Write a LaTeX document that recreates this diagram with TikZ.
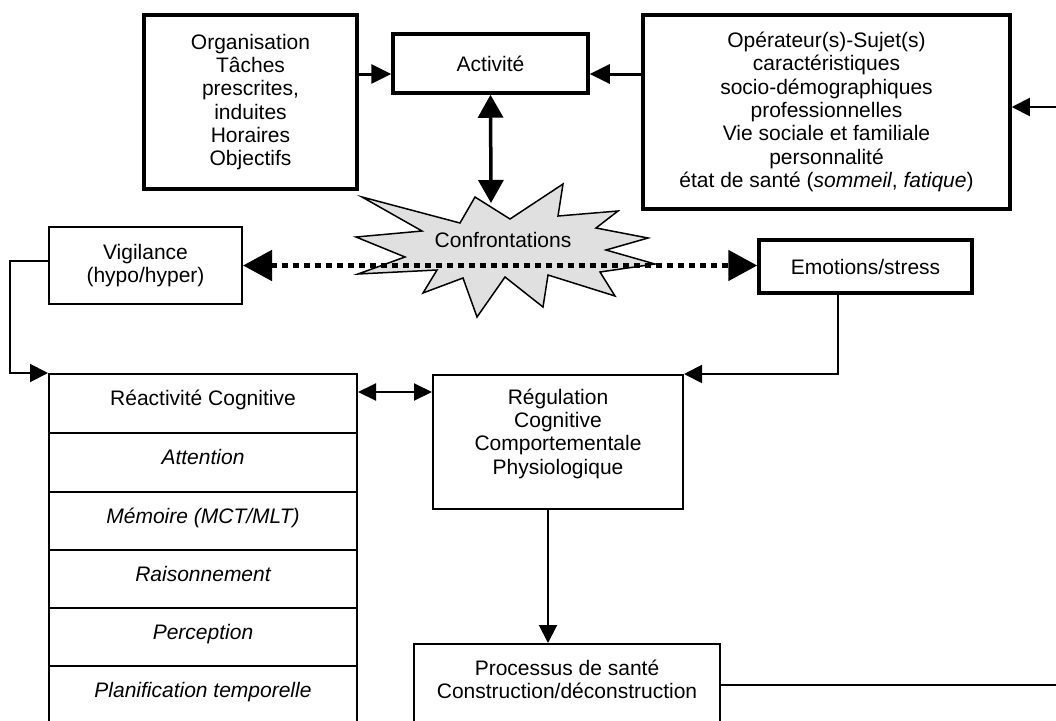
\documentclass[tikz,border=0pt]{standalone}
\usepackage{fontspec}
\setmainfont{Liberation Sans}
\usetikzlibrary{arrows.meta}
\definecolor{burstgray}{gray}{0.88}
\tikzset{
  thickbox/.style={draw, line width=3.5pt, inner sep=0pt, align=center},
  thinbox/.style={draw, line width=2pt, inner sep=0pt, align=center},
  cell/.style={thinbox, minimum width=308pt, text height=16pt, text depth=12pt},
  link/.style={line width=2pt},
  boldlink/.style={line width=3pt},
  thinhead/.style={-{Triangle[length=18pt,width=18pt]}},
  boldhead/.style={-{Triangle[length=20pt,width=19pt]}}
}

\begin{document}
\begin{tikzpicture}[x=1pt, y=-1pt, font=\fontsize{21}{23.3}\selectfont]
    \useasboundingbox (0,0) rectangle (1056,720);
    \clip (0,0) rectangle (1056,720);
    % top row
    \node[thickbox, minimum width=213pt, minimum height=174pt] (org) at (250.5,102) {Organisation\\Tâches\\prescrites,\\induites\\Horaires\\Objectifs};
    \node[thickbox, minimum width=195pt, minimum height=59pt] (act) at (490.5,63.5) {Activité};
    \node[thickbox, minimum width=367pt, minimum height=194pt] (oper) at (826.5,112) {Opérateur(s)-Sujet(s)\\caractéristiques\\socio-démographiques\\professionnelles\\Vie sociale et familiale\\personnalité\\état de santé (\textit{sommeil}, \textit{fatique})};
    % confrontations
    \draw[line width=1.5pt, fill=burstgray] (362,197) -- (460,223) -- (475,197) -- (510,219) -- (563,184) -- (558,216) -- (618,211) -- (596,228) -- (648,238) -- (606,250) -- (655,264) -- (600,272) -- (615,296) -- (548,275) -- (543,307) -- (505,277) -- (477,317) -- (463,278) -- (423,293) -- (437,270) -- (358,274) -- (405,257) -- (356,237) -- (422,231) -- cycle;
    \node (conf) at (503,240) {Confrontations};
    \coordinate (bursttop) at (491,203);
    % middle row
    \node[thinbox, minimum width=193pt, minimum height=77pt] (vig) at (145.5,265.5) {Vigilance\\(hypo/hyper)};
    \node[thickbox, minimum width=213pt, minimum height=53pt] (emo) at (865.5,266.5) {Emotions/stress};
    % reactivite
    \node[cell, minimum height=59pt] (react) at (203,403.5) {Réactivité Cognitive};
    \node[cell, minimum height=59pt] (att) at (203,462.5) {\itshape Attention};
    \node[cell, minimum height=58pt] (mem) at (203,521) {\itshape Mémoire (MCT/MLT)};
    \node[cell, minimum height=58pt] (rais) at (203,579) {\itshape Raisonnement};
    \node[cell, minimum height=58pt] (perc) at (203,637) {\itshape Perception};
    \node[cell, minimum height=58pt] (plan) at (203,695) {\itshape Planification temporelle};
    \node[thinbox, minimum width=250pt, minimum height=134pt, text depth=21pt] (reg) at (558,442) {Régulation\\Cognitive\\Comportementale\\Physiologique};
    \node[thinbox, minimum width=306pt, minimum height=82pt, text depth=11.5pt] (proc) at (567,685) {Processus de santé\\Construction/déconstruction};
    % arrows
    \draw[boldlink, boldhead] (org.east |- 0,74) -- (act.west |- 0,74);
    \draw[boldlink, boldhead] (oper.west |- 0,74) -- (act.east |- 0,74);
    \draw[line width=3.5pt, {Triangle[length=23pt,width=25pt]}-{Triangle[length=23pt,width=25pt]}] (act.south) -- (bursttop);
    \draw[line width=5pt, dash pattern=on 6pt off 5pt, {Triangle[length=29pt,width=30pt]}-{Triangle[length=29pt,width=30pt]}] (vig.east) -- (vig.east -| emo.west);
    \draw[link, thinhead] ([yshift=5pt]vig.west) -- ++(-38,0) |- (react.north west);
    \draw[link, {Triangle[length=18pt,width=17pt]}-{Triangle[length=18pt,width=17pt]}] ([yshift=-19pt]react.north east) -- ([yshift=-18pt]reg.north west);
    \draw[link, thinhead] ([xshift=-28pt]emo.south) |- (reg.north east);
    \draw[link, thinhead] ([xshift=-10pt]reg.south) -- ([xshift=-10pt]reg.south |- proc.north);
    \draw[link, thinhead] (proc.east) -- (1075,685) |- ([yshift=5pt]oper.east);
\end{tikzpicture}
\end{document}
